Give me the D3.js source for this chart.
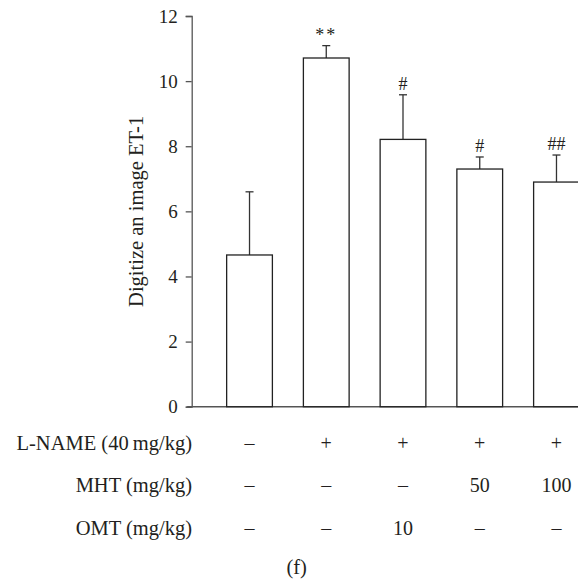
<!DOCTYPE html>
<html>
<head>
    <meta charset="utf-8">
    <title>ET-1</title>
    <script src="https://d3js.org/d3.v7.min.js"></script>
    <style>
        body { margin: 0; background: #fff; }
        text { font-family: "Liberation Serif", "DejaVu Serif", serif; fill: #231f20; }
    </style>
</head>
<body>
    <div id="chart"></div>
    <script>
        // values
        var groups = ["g1", "g2", "g3", "g4", "g5"];
        var means = [4.66, 10.71, 8.21, 7.30, 6.90];
        var errors = [1.94, 0.38, 1.37, 0.37, 0.83];
        var marks = ["", "**", "#", "#", "##"];
        var yTicks = [0, 2, 4, 6, 8, 10, 12];

        // treatment table under the bars
        var rowLabels = ["L-NAME (40\u2009mg/kg)", "MHT (mg/kg)", "OMT (mg/kg)"];
        var lname = ["\u2013", "+", "+", "+", "+"];
        var mht = ["\u2013", "\u2013", "\u2013", "50", "100"];
        var omt = ["\u2013", "\u2013", "10", "\u2013", "\u2013"];

        var svg = d3.select("#chart").append("svg")
            .attr("width", 578)
            .attr("height", 582);

        var axisX = 191.7;
        var x = d3.scaleBand().domain(groups).range([211.3, 594.7])
            .paddingInner(0.404).paddingOuter(0.2);
        var y = d3.scaleLinear().domain([0, 12]).range([406.7, 16]);

        // y axis
        var yAxis = svg.append("g")
            .attr("transform", `translate(${axisX},0)`)
            .call(d3.axisLeft(y).tickValues(yTicks).tickSize(6).tickPadding(8));
        yAxis.select(".domain").attr("stroke", "#555").attr("stroke-width", 1.3);
        yAxis.selectAll(".tick line").attr("stroke", "#555").attr("stroke-width", 1.3);
        yAxis.selectAll(".tick text")
            .attr("font-family", "Liberation Serif, serif")
            .attr("font-size", 19)
            .attr("fill", "#231f20");

        // baseline
        svg.append("line")
            .attr("x1", axisX - 4.5).attr("x2", 578)
            .attr("y1", y(0)).attr("y2", y(0))
            .attr("stroke", "#555").attr("stroke-width", 1.6);

        svg.append("text")
            .attr("transform", `translate(136,${(y(0) + y(12)) / 2}) rotate(-90)`)
            .attr("text-anchor", "middle")
            .attr("dy", "0.35em")
            .style("font-size", "20.5px")
            .text("Digitize an image ET-1");

        // error bars (upper only)
        groups.forEach(function (g, i) {
            var cx = x(g) + x.bandwidth() / 2;
            svg.append("line")
                .attr("x1", cx).attr("x2", cx)
                .attr("y1", y(means[i])).attr("y2", y(means[i] + errors[i]))
                .attr("stroke", "#333").attr("stroke-width", 1.3);
            svg.append("line")
                .attr("x1", cx - 4).attr("x2", cx + 4)
                .attr("y1", y(means[i] + errors[i])).attr("y2", y(means[i] + errors[i]))
                .attr("stroke", "#333").attr("stroke-width", 1.3);
            svg.append("text")
                .attr("x", cx)
                .attr("y", y(means[i] + errors[i]) - 5)
                .attr("text-anchor", "middle")
                .attr("letter-spacing", marks[i] === "**" ? 2 : 0)
                .style("font-size", "18px")
                .text(marks[i]);
        });

        // bars
        svg.selectAll(".bar")
            .data(means)
            .enter().append("rect")
            .attr("class", "bar")
            .attr("x", (d, i) => x(groups[i]))
            .attr("y", d => y(d))
            .attr("width", x.bandwidth())
            .attr("height", d => y(0) - y(d))
            .attr("fill", "#fff")
            .attr("stroke", "#222")
            .attr("stroke-width", 1.3);

        // table rows
        var rows = [lname, mht, omt];
        var rowY = [443.3, 485, 528.3];
        rows.forEach(function (row, r) {
            svg.append("text")
                .attr("x", 192)
                .attr("y", rowY[r])
                .attr("dy", "0.35em")
                .attr("text-anchor", "end")
                .style("font-size", "20.5px")
                .text(rowLabels[r]);
            row.forEach(function (v, i) {
                svg.append("text")
                    .attr("x", x(groups[i]) + x.bandwidth() / 2)
                    .attr("y", rowY[r])
                    .attr("dy", "0.35em")
                    .attr("text-anchor", "middle")
                    .style("font-size", "20px")
                    .text(v);
            });
        });

        svg.append("text")
            .attr("x", 296.7)
            .attr("y", 566.7)
            .attr("dy", "0.35em")
            .attr("text-anchor", "middle")
            .style("font-size", "20.5px")
            .text("(f)");
    </script>
</body>
</html>
